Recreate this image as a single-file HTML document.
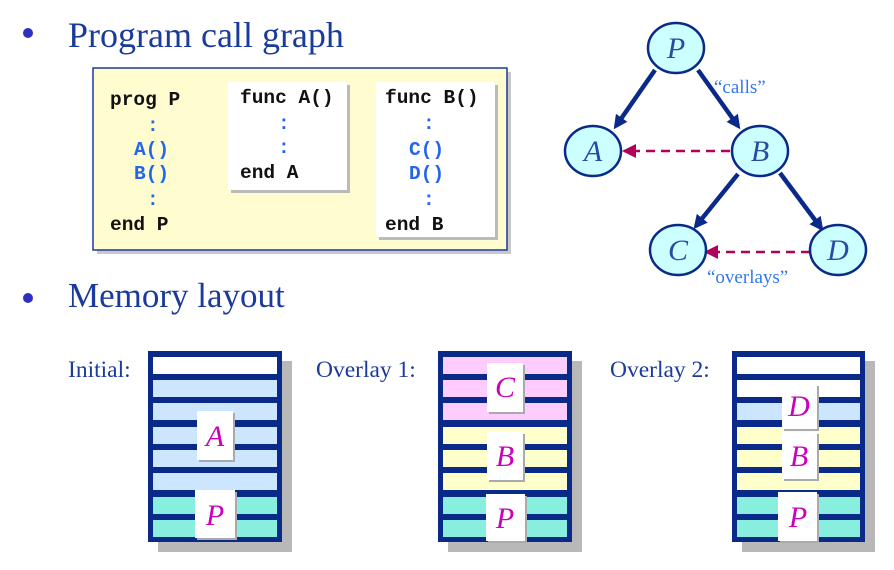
<!DOCTYPE html>
<html><head><meta charset="utf-8"><style>
html,body{margin:0;padding:0;background:#fff;}
svg{display:block;}
.t{font-family:"Liberation Serif",serif;fill:#1a3a9c;}
.c{font-family:"Liberation Mono",monospace;font-weight:bold;font-size:19.5px;}
.n{font-family:"Liberation Serif",serif;font-style:italic;font-size:30px;fill:#2a4aa8;text-anchor:middle;}
.m{font-family:"Liberation Serif",serif;font-style:italic;font-size:30px;fill:#cc00bb;text-anchor:middle;}
</style></head><body>
<svg width="894" height="570" viewBox="0 0 894 570" xmlns="http://www.w3.org/2000/svg">
<defs>
<marker id="ab" markerWidth="14" markerHeight="14" refX="10" refY="7" orient="auto" markerUnits="userSpaceOnUse">
<path d="M0,0 L14,7 L0,14 z" fill="#0a2a8a"/></marker>
<marker id="ap" markerWidth="14" markerHeight="14" refX="12" refY="7" orient="auto" markerUnits="userSpaceOnUse">
<path d="M0,0 L14,7 L0,14 z" fill="#b0005a"/></marker>
</defs>
<circle cx="28" cy="33" r="5" fill="#3030c0"/>
<text class="t" x="68" y="47" font-size="36">Program call graph</text>
<circle cx="28" cy="298" r="5" fill="#3030c0"/>
<text class="t" x="68" y="307" font-size="35">Memory layout</text>

<rect x="97" y="72" width="414" height="182" fill="#c8c8c8"/>
<rect x="93" y="68" width="414" height="182" fill="#fffdd0" stroke="#1a3a9c" stroke-width="1.5"/>
<rect x="231" y="85" width="119" height="108" fill="#bbb"/>
<rect x="228" y="82" width="119" height="108" fill="#fff"/>
<rect x="379" y="85" width="119" height="155" fill="#bbb"/>
<rect x="376" y="82" width="119" height="155" fill="#fff"/>
<g class="c">
<text x="110" y="105" fill="#111">prog P</text>
<text x="147" y="131" fill="#2266ee">:</text>
<text x="134" y="155" fill="#2266ee">A()</text>
<text x="134" y="179" fill="#2266ee">B()</text>
<text x="147" y="205" fill="#2266ee">:</text>
<text x="110" y="230" fill="#111">end P</text>
<text x="240" y="103" fill="#111">func A()</text>
<text x="278" y="129" fill="#2266ee">:</text>
<text x="278" y="153" fill="#2266ee">:</text>
<text x="240" y="178" fill="#111">end A</text>
<text x="385" y="103" fill="#111">func B()</text>
<text x="423" y="129" fill="#2266ee">:</text>
<text x="409" y="155" fill="#2266ee">C()</text>
<text x="409" y="179" fill="#2266ee">D()</text>
<text x="423" y="205" fill="#2266ee">:</text>
<text x="385" y="230" fill="#111">end B</text>
</g>

<g stroke="#0a2a8a" stroke-width="4.5" fill="none">
<line x1="655" y1="70" x2="616" y2="126" marker-end="url(#ab)"/>
<line x1="698" y1="70" x2="738" y2="126" marker-end="url(#ab)"/>
<line x1="738" y1="174" x2="696" y2="226" marker-end="url(#ab)"/>
<line x1="780" y1="173" x2="821" y2="228" marker-end="url(#ab)"/>
</g>
<g stroke="#b0005a" stroke-width="2.5" stroke-dasharray="9,6" fill="none">
<line x1="730" y1="151" x2="624" y2="151" marker-end="url(#ap)"/>
<line x1="810" y1="252" x2="706" y2="252" marker-end="url(#ap)"/>
</g>
<g fill="#ccffff" stroke="#0a2a8a" stroke-width="2.5">
<ellipse cx="676" cy="48" rx="28" ry="25"/>
<ellipse cx="593" cy="151" rx="28" ry="25"/>
<ellipse cx="760" cy="151" rx="28" ry="25"/>
<ellipse cx="678" cy="250" rx="28" ry="25"/>
<ellipse cx="838" cy="250" rx="28" ry="25"/>
</g>
<text class="n" x="676" y="58">P</text>
<text class="n" x="593" y="161">A</text>
<text class="n" x="760" y="161">B</text>
<text class="n" x="678" y="260">C</text>
<text class="n" x="838" y="260">D</text>
<text x="714" y="93" font-family="Liberation Serif,serif" font-size="19" fill="#3377ee">“calls”</text>
<text x="707" y="283" font-family="Liberation Serif,serif" font-size="19" fill="#3377ee">“overlays”</text>

<text class="t" x="68" y="377" font-size="23.5">Initial:</text>
<text class="t" x="316" y="377" font-size="23.5">Overlay 1:</text>
<text class="t" x="610" y="377" font-size="23.5">Overlay 2:</text>

<g>
<rect x="158" y="361" width="134" height="191" fill="#b8b8b8"/>
<rect x="148" y="351" width="134" height="191" fill="#0a2a8a"/>
<rect x="153" y="357" width="124" height="17" fill="#fff"/>
<rect x="153" y="380" width="124" height="17" fill="#cce6ff"/>
<rect x="153" y="403" width="124" height="17" fill="#cce6ff"/>
<rect x="153" y="427" width="124" height="17" fill="#cce6ff"/>
<rect x="153" y="450" width="124" height="17" fill="#cce6ff"/>
<rect x="153" y="473" width="124" height="17" fill="#cce6ff"/>
<rect x="153" y="497" width="124" height="17" fill="#88eedd"/>
<rect x="153" y="520" width="124" height="17" fill="#88eedd"/>
<rect x="199" y="413" width="36" height="49" fill="#aaa"/>
<rect x="197" y="411" width="36" height="49" fill="#fff"/>
<text class="m" x="215" y="446">A</text>
<rect x="197" y="492" width="40" height="48" fill="#aaa"/>
<rect x="195" y="490" width="40" height="48" fill="#fff"/>
<text class="m" x="215" y="525">P</text>
</g>

<g>
<rect x="448" y="361" width="134" height="191" fill="#b8b8b8"/>
<rect x="438" y="351" width="134" height="191" fill="#0a2a8a"/>
<rect x="443" y="357" width="124" height="17" fill="#ffccff"/>
<rect x="443" y="380" width="124" height="17" fill="#ffccff"/>
<rect x="443" y="403" width="124" height="17" fill="#ffccff"/>
<rect x="443" y="427" width="124" height="17" fill="#ffffcc"/>
<rect x="443" y="450" width="124" height="17" fill="#ffffcc"/>
<rect x="443" y="473" width="124" height="17" fill="#ffffcc"/>
<rect x="443" y="497" width="124" height="17" fill="#88eedd"/>
<rect x="443" y="520" width="124" height="17" fill="#88eedd"/>
<rect x="489" y="365" width="36" height="49" fill="#aaa"/>
<rect x="487" y="363" width="36" height="49" fill="#fff"/>
<text class="m" x="505" y="397">C</text>
<rect x="489" y="434" width="36" height="48" fill="#aaa"/>
<rect x="487" y="432" width="36" height="48" fill="#fff"/>
<text class="m" x="505" y="466">B</text>
<rect x="488" y="496" width="39" height="47" fill="#aaa"/>
<rect x="486" y="494" width="39" height="47" fill="#fff"/>
<text class="m" x="505" y="528">P</text>
</g>

<g>
<rect x="742" y="361" width="133" height="191" fill="#b8b8b8"/>
<rect x="732" y="351" width="133" height="191" fill="#0a2a8a"/>
<rect x="737" y="357" width="123" height="17" fill="#fff"/>
<rect x="737" y="380" width="123" height="17" fill="#fff"/>
<rect x="737" y="403" width="123" height="17" fill="#cce6ff"/>
<rect x="737" y="427" width="123" height="17" fill="#ffffcc"/>
<rect x="737" y="450" width="123" height="17" fill="#ffffcc"/>
<rect x="737" y="473" width="123" height="17" fill="#ffffcc"/>
<rect x="737" y="497" width="123" height="17" fill="#88eedd"/>
<rect x="737" y="520" width="123" height="17" fill="#88eedd"/>
<rect x="784" y="386" width="35" height="45" fill="#aaa"/>
<rect x="782" y="384" width="35" height="45" fill="#fff"/>
<text class="m" x="799" y="416">D</text>
<rect x="784" y="434" width="35" height="47" fill="#aaa"/>
<rect x="782" y="432" width="35" height="47" fill="#fff"/>
<text class="m" x="799" y="466">B</text>
<rect x="780" y="494" width="39" height="49" fill="#aaa"/>
<rect x="778" y="492" width="39" height="49" fill="#fff"/>
<text class="m" x="798" y="527">P</text>
</g>
</svg>
</body></html>
